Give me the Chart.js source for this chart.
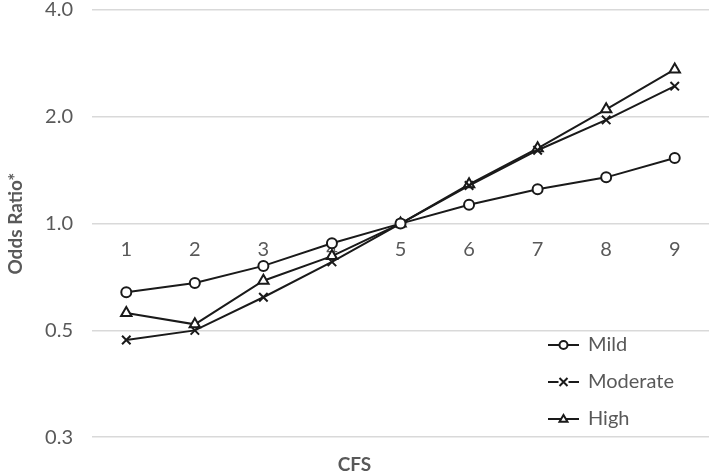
<!DOCTYPE html>
<html>
<head>
<meta charset="utf-8">
<script src="https://cdn.jsdelivr.net/npm/chart.js@4/dist/chart.umd.min.js"></script>
<style>
  html, body { margin: 0; padding: 0; background: #fff; }
  #wrap { width: 709px; height: 476px; position: relative; }
</style>
</head>
<body>
<div id="wrap"><canvas id="orChart"></canvas></div>
<script>
const categories = ['1', '2', '3', '4', '5', '6', '7', '8', '9'];
const mild = [0.64, 0.68, 0.76, 0.88, 1.0, 1.13, 1.25, 1.35, 1.53];
const moderate = [0.47, 0.50, 0.62, 0.78, 1.0, 1.28, 1.61, 1.96, 2.44];
const high = [0.56, 0.52, 0.69, 0.81, 1.0, 1.29, 1.63, 2.10, 2.72];
const yTickValues = [0.25, 0.5, 1, 2, 4];
const yTickLabels = ['0.3', '0.5', '1.0', '2.0', '4.0'];

const ink = '#1a1a1a';
const gray = '#595959';
const font = 'Lato, "Open Sans", sans-serif';

function series(label, data, style, radius) {
  return {
    label: label,
    data: data,
    borderColor: ink,
    borderWidth: 2,
    pointStyle: style,
    pointRadius: radius,
    pointBorderColor: ink,
    pointBorderWidth: 2,
    pointBackgroundColor: '#fff',
    tension: 0,
    fill: false
  };
}

// legend drawn in the lower right, line-marker-line like the original
const cornerLegend = {
  id: 'cornerLegend',
  afterDraw(chart) {
    const c = chart.ctx;
    const x0 = 548, rows = [345, 382, 419];
    chart.data.datasets.forEach((ds, i) => {
      const y = rows[i];
      c.save();
      c.strokeStyle = ink;
      c.lineWidth = 2;
      c.beginPath();
      c.moveTo(x0, y);
      c.lineTo(x0 + 31, y);
      c.stroke();
      c.fillStyle = '#fff';
      const cx = x0 + 15.5, r = 4;
      c.beginPath();
      if (ds.pointStyle === 'circle') {
        c.arc(cx, y, r, 0, Math.PI * 2);
        c.fill(); c.stroke();
      } else if (ds.pointStyle === 'crossRot') {
        c.fillRect(cx - 5, y - 5, 10, 10);
        c.moveTo(cx - r, y - r); c.lineTo(cx + r, y + r);
        c.moveTo(cx + r, y - r); c.lineTo(cx - r, y + r);
        c.stroke();
      } else {
        c.moveTo(cx, y - r); c.lineTo(cx + r, y + r * 0.7); c.lineTo(cx - r, y + r * 0.7);
        c.closePath();
        c.fill(); c.stroke();
      }
      c.fillStyle = gray;
      c.font = '20px ' + font;
      c.textBaseline = 'middle';
      c.textAlign = 'left';
      c.fillText(ds.label, x0 + 40, y);
      c.restore();
    });
  }
};

new Chart(document.getElementById('orChart'), {
  type: 'line',
  data: {
    labels: categories,
    datasets: [
      series('Mild', mild, 'circle', 5),
      series('Moderate', moderate, 'crossRot', 6),
      series('High', high, 'triangle', 6)
    ]
  },
  options: {
    responsive: true,
    maintainAspectRatio: false,
    animation: false,
    layout: { autoPadding: false, padding: 0 },
    plugins: {
      legend: { display: false },
      tooltip: { enabled: false },
      title: {
        display: true,
        position: 'bottom',
        text: 'CFS',
        color: gray,
        font: { family: font, size: 19, weight: 'bold' },
        padding: { top: 16, bottom: 0 }
      }
    },
    scales: {
      x: {
        position: { y: 1 },
        offset: true,
        grid: { display: false, drawTicks: false },
        border: { display: false },
        ticks: { color: gray, font: { family: font, size: 20 }, padding: 14, maxRotation: 0 },
        afterFit(scale) {
          scale.paddingLeft = 0;
          scale.paddingRight = 0;
        }
      },
      y: {
        type: 'logarithmic',
        min: 0.25,
        max: 4,
        afterBuildTicks(scale) {
          scale.ticks = yTickValues.map(v => ({ value: v }));
        },
        afterFit(scale) {
          scale.width = 92;
        },
        grid: { color: '#d9d9d9', lineWidth: 1.5, drawTicks: true, tickLength: 19, tickColor: 'rgba(0,0,0,0)' },
        border: { display: false },
        ticks: {
          color: gray,
          font: { family: font, size: 20, lineHeight: 1 },
          padding: 0,
          callback: (v) => yTickLabels[yTickValues.indexOf(v)]
        },
        title: {
          display: true,
          text: 'Odds Ratio*',
          color: gray,
          font: { family: font, size: 19, weight: 'bold' },
          padding: { top: 4, bottom: 2 }
        }
      }
    }
  },
  plugins: [cornerLegend]
});
</script>
</body>
</html>
